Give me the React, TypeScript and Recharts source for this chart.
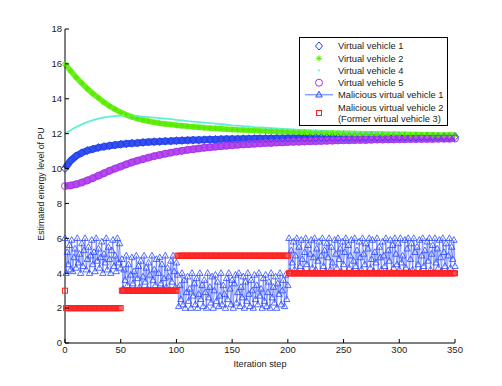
import React from 'react';
import { LineChart, Line, XAxis, YAxis, Legend } from 'recharts';

const FONT = '"Liberation Sans", Arial, Helvetica, sans-serif';

// ---------- data ----------
const xTicks = [0, 50, 100, 150, 200, 250, 300, 350];
const yTicks = [0, 2, 4, 6, 8, 10, 12, 14, 16, 18];

const seriesNames = [
  'Virtual vehicle 1',
  'Virtual vehicle 2',
  'Virtual vehicle 4',
  'Virtual vehicle 5',
  'Malicious virtual vehicle 1',
  'Malicious virtual vehicle 2',
];
const seriesNote = '(Former virtual vehicle 3)';

const xLabel = 'Iteration step';
const yLabel = 'Estimated energy level of PU';

const smoothSteps = [
  0, 5, 10, 15, 20, 25, 30, 35, 40, 45, 50, 55, 60, 65, 70, 75, 80, 85, 90, 95,
  100, 105, 110, 115, 120, 125, 130, 135, 140, 145, 150, 155, 160, 165, 170, 175, 180, 185, 190, 195,
  200, 205, 210, 215, 220, 225, 230, 235, 240, 245, 250, 255, 260, 265, 270, 275, 280, 285, 290, 295,
  300, 305, 310, 315, 320, 325, 330, 335, 340, 345, 350,
];

const vv1Values = [
  10.0, 10.45, 10.72, 10.9, 11.03, 11.12, 11.2, 11.26, 11.31, 11.35,
  11.39, 11.42, 11.45, 11.47, 11.5, 11.52, 11.54, 11.55, 11.57, 11.58,
  11.6, 11.61, 11.62, 11.63, 11.64, 11.65, 11.66, 11.67, 11.68, 11.69,
  11.69, 11.7, 11.71, 11.71, 11.72, 11.72, 11.73, 11.73, 11.74, 11.74,
  11.75, 11.75, 11.76, 11.76, 11.76, 11.77, 11.77, 11.77, 11.78, 11.78,
  11.78, 11.79, 11.79, 11.79, 11.79, 11.8, 11.8, 11.8, 11.8, 11.81,
  11.81, 11.81, 11.81, 11.81, 11.82, 11.82, 11.82, 11.82, 11.82, 11.83,
  11.83,
];

const vv2Values = [
  16.0, 15.6, 15.22, 14.9, 14.58, 14.3, 14.05, 13.8, 13.58, 13.39,
  13.22, 13.08, 12.96, 12.86, 12.78, 12.71, 12.65, 12.6, 12.56, 12.52,
  12.48, 12.45, 12.42, 12.39, 12.37, 12.34, 12.32, 12.3, 12.28, 12.26,
  12.24, 12.22, 12.21, 12.19, 12.18, 12.16, 12.15, 12.14, 12.13, 12.12,
  12.11, 12.1, 12.09, 12.08, 12.07, 12.06, 12.05, 12.04, 12.04, 12.03,
  12.02, 12.01, 12.01, 12.0, 11.99, 11.99, 11.98, 11.98, 11.97, 11.97,
  11.96, 11.96, 11.95, 11.95, 11.94, 11.94, 11.94, 11.93, 11.93, 11.93,
  11.92,
];

const vv4Values = [
  12.0, 12.2, 12.38, 12.53, 12.66, 12.77, 12.86, 12.93, 12.98, 13.01,
  13.03, 13.03, 13.02, 13.0, 12.98, 12.95, 12.92, 12.89, 12.86, 12.83,
  12.79, 12.76, 12.72, 12.69, 12.66, 12.63, 12.6, 12.57, 12.54, 12.51,
  12.48, 12.46, 12.43, 12.41, 12.38, 12.36, 12.34, 12.32, 12.3, 12.28,
  12.26, 12.24, 12.22, 12.21, 12.19, 12.18, 12.16, 12.15, 12.13, 12.12,
  12.11, 12.1, 12.09, 12.08, 12.07, 12.06, 12.05, 12.04, 12.03, 12.02,
  12.02, 12.01, 12.0, 12.0, 11.99, 11.98, 11.98, 11.97, 11.97, 11.96,
  11.96,
];

const vv5Values = [
  9.0, 9.03, 9.1, 9.2, 9.32, 9.45, 9.59, 9.73, 9.87, 10.0,
  10.12, 10.24, 10.35, 10.45, 10.54, 10.63, 10.71, 10.78, 10.85, 10.91,
  10.97, 11.02, 11.07, 11.11, 11.15, 11.19, 11.22, 11.25, 11.28, 11.31,
  11.33, 11.36, 11.38, 11.4, 11.42, 11.44, 11.46, 11.47, 11.49, 11.5,
  11.52, 11.53, 11.54, 11.55, 11.56, 11.57, 11.58, 11.59, 11.6, 11.61,
  11.62, 11.62, 11.63, 11.64, 11.64, 11.65, 11.66, 11.66, 11.67, 11.67,
  11.68, 11.68, 11.69, 11.69, 11.7, 11.7, 11.7, 11.71, 11.71, 11.71,
  11.72,
];

// malicious virtual vehicle 1: one value per iteration step 0..350
const mal1Values = [
  // steps 0-50
  6.0, 4.0, 5.2, 4.5, 5.6, 4.2, 5.9, 4.1, 4.9, 5.4, 4.3, 6.0, 4.6, 5.1, 4.0, 5.7, 4.4, 5.3, 6.0, 4.2,
  4.8, 5.5, 4.0, 5.0, 5.9, 4.5, 5.2, 4.1, 6.0, 4.7, 5.4, 4.3, 4.9, 5.8, 4.0, 5.1, 4.6, 6.0, 4.2, 5.5,
  4.8, 4.0, 5.3, 5.9, 4.4, 5.0, 4.1, 6.0, 4.6, 5.7, 4.3,
  // steps 51-100
  4.8, 3.1, 4.2, 3.6, 5.0, 3.3, 4.5, 3.0, 3.9, 4.9, 3.4, 4.1, 3.0, 5.0, 3.7, 4.4, 3.2, 4.7, 3.0, 3.8,
  5.0, 3.5, 4.3, 3.1, 4.6, 3.9, 3.0, 5.0, 3.6, 4.2, 3.3, 4.8, 3.0, 4.0, 4.9, 3.4, 4.5, 3.1, 3.7, 5.0,
  3.2, 4.3, 3.8, 3.0, 4.7, 3.5, 5.0, 4.1, 3.2, 4.6,
  // steps 101-200
  3.9, 2.1, 3.3, 2.5, 4.0, 2.2, 3.6, 2.0, 2.9, 3.8, 2.4, 3.1, 2.0, 4.0, 2.7, 3.4, 2.2, 3.7, 2.0, 2.8,
  4.0, 2.5, 3.3, 2.1, 3.6, 2.9, 2.0, 4.0, 2.6, 3.2, 2.3, 3.8, 2.0, 3.0, 3.9, 2.4, 3.5, 2.1, 2.7, 4.0,
  2.2, 3.3, 2.8, 2.0, 3.7, 2.5, 4.0, 3.1, 2.2, 3.6,
  2.0, 3.4, 3.9, 2.3, 2.9, 4.0, 2.1, 3.2, 2.6, 3.8, 2.0, 3.5, 2.4, 4.0, 2.8, 2.1, 3.6, 3.0, 2.0, 3.9,
  2.5, 3.3, 2.2, 4.0, 2.7, 3.1, 2.0, 3.7, 2.4, 3.9, 2.1, 2.9, 3.5, 2.0, 4.0, 2.6, 3.2, 2.3, 3.8, 2.0,
  3.4, 2.8, 4.0, 2.2, 3.0, 3.6, 2.1, 3.9, 2.5, 3.3,
  // steps 201-350
  6.0, 4.1, 5.3, 4.6, 5.8, 4.2, 5.0, 6.0, 4.0, 5.5, 4.4, 5.9, 4.8, 4.1, 5.2, 6.0, 4.5, 5.6, 4.0, 5.1,
  5.9, 4.3, 4.9, 6.0, 4.2, 5.4, 4.7, 5.8, 4.0, 5.0, 6.0, 4.4, 5.3, 4.1, 5.7, 4.9, 6.0, 4.2, 5.5, 4.6,
  4.0, 5.9, 5.1, 4.3, 6.0, 4.8, 5.4, 4.1, 5.8, 4.5,
  5.2, 6.0, 4.0, 5.6, 4.3, 5.0, 5.9, 4.1, 4.7, 6.0, 4.4, 5.3, 4.0, 5.8, 4.9, 4.2, 6.0, 5.1, 4.5, 5.7,
  4.0, 5.4, 6.0, 4.3, 4.8, 5.9, 4.1, 5.2, 4.6, 6.0, 4.0, 5.5, 4.9, 4.2, 5.8, 5.0, 4.4, 6.0, 4.1, 5.3,
  4.7, 5.9, 4.0, 5.6, 4.3, 6.0, 5.1, 4.5, 5.7, 4.2,
  6.0, 4.6, 5.0, 4.0, 5.9, 4.3, 5.4, 6.0, 4.1, 4.8, 5.7, 4.2, 6.0, 5.2, 4.0, 5.5, 4.5, 5.9, 4.1, 5.0,
  6.0, 4.4, 5.3, 4.0, 5.8, 4.7, 6.0, 4.2, 5.1, 5.6, 4.0, 6.0, 4.6, 5.4, 4.3, 5.9, 4.9, 4.1, 6.0, 5.2,
  4.4, 5.7, 4.0, 5.0, 6.0, 4.3, 5.5, 4.8, 5.9, 4.4,
];

// malicious virtual vehicle 2: piecewise-constant level, starting step of each level
const mal2SegmentStart = [0, 1, 51, 101, 201];
const mal2SegmentLevel = [3, 2, 3, 5, 4];
const lastStep = 350;

// ---------- derived tables ----------
const toPoints = (steps: number[], vals: number[]) => vals.map((y, i) => ({ x: steps[i], y }));
const vv1Data = toPoints(smoothSteps, vv1Values);
const vv2Data = toPoints(smoothSteps, vv2Values);
const vv4Data = toPoints(smoothSteps, vv4Values);
const vv5Data = toPoints(smoothSteps, vv5Values);
const mal1Data = mal1Values.map((y, i) => ({ x: i, y }));
const mal2Data: { x: number; y: number }[] = [];
for (let s = 0; s <= lastStep; s++) {
  let k = 0;
  for (let j = 0; j < mal2SegmentStart.length; j++) if (s >= mal2SegmentStart[j]) k = j;
  mal2Data.push({ x: s, y: mal2SegmentLevel[k] });
}

// ---------- styles ----------
const C_BLUE = '#1f3cf0';
const C_BLUE_BAND = '#3450ee';
const C_GREEN = '#55ea00';
const C_GREEN_BAND = '#6cf01a';
const C_CYAN = '#62eed6';
const C_PURPLE = '#a735e6';
const C_PURPLE_BAND = '#b548f0';
const C_MAL1 = '#2a48ff';
const C_MAL1_LINE = '#5a72ff';
const C_RED = '#ff2222';

// ---------- markers ----------
const diamondPath = (cx: number, cy: number) =>
  `M${cx},${cy - 4}L${cx + 3.5},${cy}L${cx},${cy + 4}L${cx - 3.5},${cy}Z`;
const starPath = (cx: number, cy: number) =>
  `M${cx - 3},${cy}L${cx + 3},${cy}M${cx},${cy - 3}L${cx},${cy + 3}M${cx - 2.1},${cy - 2.1}L${cx + 2.1},${cy + 2.1}M${cx - 2.1},${cy + 2.1}L${cx + 2.1},${cy - 2.1}`;
const triPath = (cx: number, cy: number) =>
  `M${cx},${cy - 3.5}L${cx + 3.2},${cy + 2.2}L${cx - 3.2},${cy + 2.2}Z`;

const DiamondDot = (p: any) =>
  p.cx == null ? null : (
    <path key={`d${p.index}`} d={diamondPath(p.cx, p.cy)} fill="none" stroke={C_BLUE} strokeWidth={1} />
  );
const StarDot = (p: any) =>
  p.cx == null ? null : (
    <path key={`s${p.index}`} d={starPath(p.cx, p.cy)} fill="none" stroke={C_GREEN} strokeWidth={1} />
  );
const CircleDot = (p: any) =>
  p.cx == null ? null : (
    <circle key={`c${p.index}`} cx={p.cx} cy={p.cy} r={3.5} fill="none" stroke={C_PURPLE} strokeWidth={1} />
  );
const TriDot = (p: any) =>
  p.cx == null ? null : (
    <path key={`t${p.index}`} d={triPath(p.cx, p.cy)} fill="none" stroke={C_MAL1} strokeWidth={0.8} />
  );
const SquareDot = (p: any) =>
  p.cx == null ? null : (
    <rect key={`q${p.index}`} x={p.cx - 2.5} y={p.cy - 2.5} width={5} height={5} fill="none" stroke={C_RED} strokeWidth={1} />
  );

// ---------- axes ----------
const TICK_FS = 9.5;
const BottomTick = (p: any) => (
  <g>
    <line x1={p.x} x2={p.x} y1={p.y} y2={p.y - 4} stroke="#000" />
    <text x={p.x} y={p.y + 3.5} dy="0.71em" textAnchor="middle" fontSize={TICK_FS} fontFamily={FONT} fill="#222">
      {p.payload.value}
    </text>
  </g>
);
const LeftTick = (p: any) => (
  <g>
    <line x1={p.x} x2={p.x + 4} y1={p.y} y2={p.y} stroke="#000" />
    <text x={p.x - 3} y={p.y} dy="0.35em" textAnchor="end" fontSize={TICK_FS} fontFamily={FONT} fill="#222">
      {p.payload.value}
    </text>
  </g>
);
const TopTick = (p: any) => <line x1={p.x} x2={p.x} y1={p.y} y2={p.y + 4} stroke="#000" />;
const RightTick = (p: any) => <line x1={p.x} x2={p.x - 4} y1={p.y} y2={p.y} stroke="#000" />;

const XLabel = () => (
  <text x={260} y={367} textAnchor="middle" fontSize={9.2} fontFamily={FONT} fill="#222">
    {xLabel}
  </text>
);
const YLabel = () => (
  <text x={44} y={184} transform="rotate(-90 44 184)" textAnchor="middle" fontSize={8.8} fontFamily={FONT} fill="#222">
    {yLabel}
  </text>
);

// ---------- legend ----------
const LEG_FS = 9.3;
const LegendContent = () => {
  const sx = 20;
  const tx = 39;
  const rows = [9, 21.3, 33.5, 45.7, 57.8];
  const txt = (y: number, s: string, k: string) => (
    <text key={k} x={tx} y={y} dy="0.35em" fontSize={LEG_FS} fontFamily={FONT} fill="#222">
      {s}
    </text>
  );
  return (
    <svg width={150} height={90} style={{ display: 'block' }}>
      <rect x={0.5} y={0.5} width={148} height={88} fill="#fff" stroke="#000" strokeWidth={1} />
      <path d={diamondPath(sx, rows[0])} fill="none" stroke={C_BLUE} />
      {txt(rows[0], seriesNames[0], 'a')}
      <path d={starPath(sx, rows[1])} fill="none" stroke={C_GREEN} />
      {txt(rows[1], seriesNames[1], 'b')}
      <circle cx={sx} cy={rows[2]} r={1} fill={C_CYAN} />
      {txt(rows[2], seriesNames[2], 'c')}
      <circle cx={sx} cy={rows[3]} r={3.5} fill="none" stroke={C_PURPLE} />
      {txt(rows[3], seriesNames[3], 'd')}
      <line x1={6} x2={34} y1={rows[4]} y2={rows[4]} stroke={C_MAL1_LINE} strokeWidth={1} />
      <path d={triPath(sx, rows[4])} fill="none" stroke={C_MAL1} />
      {txt(rows[4], seriesNames[4], 'e')}
      <rect x={sx - 2.5} y={76 - 2.5} width={5} height={5} fill="none" stroke={C_RED} />
      {txt(70.3, seriesNames[5], 'f')}
      {txt(81.8, seriesNote, 'g')}
    </svg>
  );
};

export default function App() {
  return (
    <div style={{ position: 'absolute', left: 0, top: 0, width: 502, height: 386, background: '#fff' }}>
      <LineChart width={502} height={386} margin={{ top: 29, right: 47, bottom: 0, left: 0 }}>
        <XAxis
          dataKey="x"
          type="number"
          domain={[0, 350]}
          ticks={xTicks}
          interval={0}
          height={43}
          tickSize={0}
          tickMargin={0}
          tickLine={false}
          axisLine={{ stroke: '#000' }}
          tick={BottomTick}
          label={<XLabel />}
        />
        <XAxis
          xAxisId="top"
          orientation="top"
          type="number"
          domain={[0, 350]}
          allowDataOverflow
          ticks={xTicks}
          interval={0}
          height={0}
          tickSize={0}
          tickMargin={0}
          tickLine={false}
          axisLine={{ stroke: '#333' }}
          tick={TopTick}
        />
        <YAxis
          type="number"
          domain={[0, 18]}
          ticks={yTicks}
          interval={0}
          width={65}
          tickSize={0}
          tickMargin={0}
          tickLine={false}
          axisLine={{ stroke: '#000' }}
          tick={LeftTick}
          label={<YLabel />}
        />
        <YAxis
          yAxisId="right"
          orientation="right"
          type="number"
          domain={[0, 18]}
          allowDataOverflow
          ticks={yTicks}
          interval={0}
          width={0}
          tickSize={0}
          tickMargin={0}
          tickLine={false}
          axisLine={{ stroke: '#333' }}
          tick={RightTick}
        />
        <Line
          data={vv1Data}
          dataKey="y"
          name={seriesNames[0]}
          stroke={C_BLUE_BAND}
          strokeWidth={7}
          dot={DiamondDot}
          activeDot={false}
          isAnimationActive={false}
        />
        <Line
          data={vv2Data}
          dataKey="y"
          name={seriesNames[1]}
          stroke={C_GREEN_BAND}
          strokeWidth={5.5}
          dot={StarDot}
          activeDot={false}
          isAnimationActive={false}
        />
        <Line
          data={vv4Data}
          dataKey="y"
          name={seriesNames[2]}
          stroke={C_CYAN}
          strokeWidth={1.8}
          dot={false}
          activeDot={false}
          isAnimationActive={false}
        />
        <Line
          data={vv5Data}
          dataKey="y"
          name={seriesNames[3]}
          stroke={C_PURPLE_BAND}
          strokeWidth={7}
          dot={CircleDot}
          activeDot={false}
          isAnimationActive={false}
        />
        <Line
          data={mal1Data}
          dataKey="y"
          name={seriesNames[4]}
          type="linear"
          stroke={C_MAL1_LINE}
          strokeWidth={0.7}
          dot={TriDot}
          activeDot={false}
          isAnimationActive={false}
        />
        <Line
          data={mal2Data}
          dataKey="y"
          name={seriesNames[5]}
          stroke="none"
          dot={SquareDot}
          activeDot={false}
          isAnimationActive={false}
        />
        <Legend
          content={LegendContent}
          layout="vertical"
          align="center"
          verticalAlign="middle"
          wrapperStyle={{ left: 299, top: 37, width: 150, height: 90 }}
        />
      </LineChart>
    </div>
  );
}
